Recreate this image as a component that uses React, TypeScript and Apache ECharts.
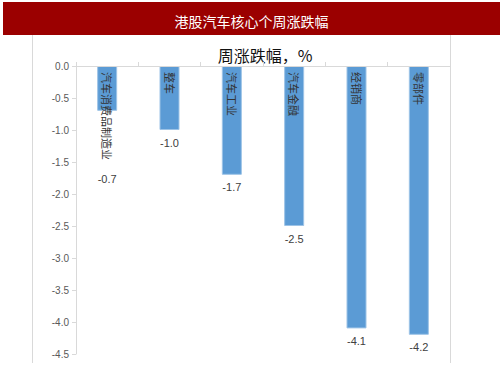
import React, { useEffect, useRef } from "react";
import * as echarts from "echarts";

const categories = ["汽车消费品制造业", "整车", "汽车工业", "汽车金融", "经销商", "零部件"];
const weeklyChange = [-0.7, -1.0, -1.7, -2.5, -4.1, -4.2];
const yTicks = { min: -4.5, max: 0, interval: 0.5 };
const titleText = "港股汽车核心个周涨跌幅";
const subtitleText = "周涨跌幅，%";

export default function App() {
  const ref = useRef<HTMLDivElement>(null);
  useEffect(() => {
    if (!ref.current) return;
    const chart = echarts.init(ref.current, undefined, { renderer: "svg" });
    const cjk = '"Noto Sans CJK SC", sans-serif';
    chart.setOption({
      animation: false,
      backgroundColor: "#ffffff",
      title: [
        {
          text: titleText,
          left: "center",
          top: 9,
          textStyle: { color: "#ffffff", fontSize: 14, fontWeight: "normal", fontFamily: cjk },
        },
        {
          text: subtitleText,
          left: 260,
          textAlign: "center",
          top: 42,
          textStyle: { color: "#111111", fontSize: 16, fontWeight: "normal", fontFamily: cjk },
        },
      ],
      graphic: [
        { type: "rect", z: -1, shape: { x: 3, y: 2, width: 497, height: 33 }, style: { fill: "#9b0000" } },
        { type: "line", shape: { x1: 32.5, y1: 35, x2: 32.5, y2: 363 }, style: { stroke: "#d9d9d9", lineWidth: 1 } },
        { type: "line", shape: { x1: 450.5, y1: 35, x2: 450.5, y2: 363 }, style: { stroke: "#d9d9d9", lineWidth: 1 } },
      ],
      grid: { left: 76, right: 53, top: 66, bottom: 24, containLabel: false },
      xAxis: {
        type: "category",
        position: "top",
        data: categories,
        axisLine: { show: true, lineStyle: { color: "#d9d9d9" } },
        axisTick: { show: true, length: 4, lineStyle: { color: "#d9d9d9" } },
        axisLabel: {
          inside: true,
          rotate: -90,
          align: "left",
          verticalAlign: "middle",
          margin: 6,
          fontSize: 11,
          color: "#333333",
          fontFamily: cjk,
        },
        z: 10,
      },
      yAxis: {
        type: "value",
        min: yTicks.min,
        max: yTicks.max,
        interval: yTicks.interval,
        axisLine: { show: true, lineStyle: { color: "#d9d9d9" } },
        axisTick: { show: true, length: 4, lineStyle: { color: "#d9d9d9" } },
        splitLine: { show: false },
        axisLabel: {
          margin: 7,
          fontSize: 10,
          color: "#595959",
          fontFamily: '"Liberation Sans", Arial, sans-serif',
          formatter: (v: number) => v.toFixed(1),
        },
      },
      series: [
        {
          type: "bar",
          barWidth: 20,
          data: weeklyChange.map((v, i) => ({
            value: v,
            label: i === 0 ? { offset: [0, 56] } : undefined,
          })),
          itemStyle: { color: "#5b9bd5", borderColor: "#9dc3e6", borderWidth: 1 },
          label: {
            show: true,
            position: "bottom",
            distance: 7,
            fontSize: 11,
            color: "#404040",
            fontFamily: '"Liberation Sans", Arial, sans-serif',
            formatter: (p: any) => Number(p.value).toFixed(1),
          },
        },
      ],
    });
    return () => chart.dispose();
  }, []);
  return (
    <div
      ref={ref}
      style={{ position: "fixed", left: 0, top: 0, width: 503, height: 378 }}
    />
  );
}
